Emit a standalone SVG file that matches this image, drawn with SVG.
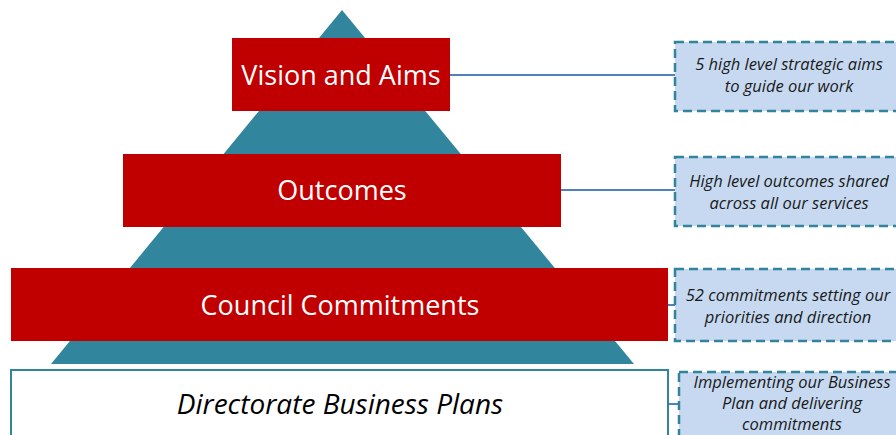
<svg xmlns="http://www.w3.org/2000/svg" width="896" height="435" viewBox="0 0 896 435">
  <style>
    .tier { fill: #c00000; }
    .tier-label { fill: #ffffff; font-family: "Open Sans", "Liberation Sans", sans-serif; font-size: 27px; text-anchor: middle; }
    .note { fill: #c6d9f1; stroke: #31849b; stroke-width: 2.5; stroke-dasharray: 9 5; }
    .note-text { fill: #1a1a1a; font-family: "Open Sans", "Liberation Sans", sans-serif; font-style: italic; font-size: 16.5px; text-anchor: middle; }
    .link { stroke: #4f81bd; stroke-width: 2; fill: none; }
  </style>

  <!-- pyramid backdrop -->
  <polygon id="pyramid" points="342,10 634,364 51,364" fill="#31859c"/>

  <g id="connectors">
    <line class="link" x1="450" y1="75" x2="676" y2="75"/>
    <line class="link" x1="561" y1="190" x2="676" y2="190"/>
    <line class="link" x1="668" y1="305" x2="676" y2="305"/>
    <line class="link" x1="668" y1="404" x2="680" y2="404"/>
  </g>

  <g id="vision">
    <rect class="tier" x="232" y="38" width="218" height="73"/>
    <text class="tier-label" x="341" y="85">Vision and Aims</text>
  </g>

  <g id="outcomes">
    <rect class="tier" x="123" y="154" width="438" height="73"/>
    <text class="tier-label" x="342" y="200">Outcomes</text>
  </g>

  <g id="commitments">
    <rect class="tier" x="11" y="268" width="657" height="73"/>
    <text class="tier-label" x="340" y="315">Council Commitments</text>
  </g>

  <g id="business-plans">
    <rect x="11" y="370" width="657" height="80" fill="#ffffff" stroke="#31849b" stroke-width="2"/>
    <text x="340" y="414" fill="#000000" font-family="Open Sans, Liberation Sans, sans-serif" font-style="italic" font-size="28" text-anchor="middle">Directorate Business Plans</text>
  </g>

  <g id="note-vision">
    <rect class="note" x="675" y="42" width="240" height="69"/>
    <text class="note-text" x="789" y="70">5 high level strategic aims</text>
    <text class="note-text" x="789" y="92">to guide our work</text>
  </g>

  <g id="note-outcomes">
    <rect class="note" x="675" y="157" width="240" height="69"/>
    <text class="note-text" x="789" y="187">High level outcomes shared</text>
    <text class="note-text" x="789" y="209">across all our services</text>
  </g>

  <g id="note-commitments">
    <rect class="note" x="675" y="269" width="240" height="72"/>
    <text class="note-text" x="788" y="301">52 commitments setting our</text>
    <text class="note-text" x="788" y="323">priorities and direction</text>
  </g>

  <g id="note-business-plans">
    <rect class="note" x="679" y="372" width="240" height="80"/>
    <text class="note-text" x="792" y="388">Implementing our Business</text>
    <text class="note-text" x="792" y="409">Plan and delivering</text>
    <text class="note-text" x="792" y="430">commitments</text>
  </g>
</svg>
